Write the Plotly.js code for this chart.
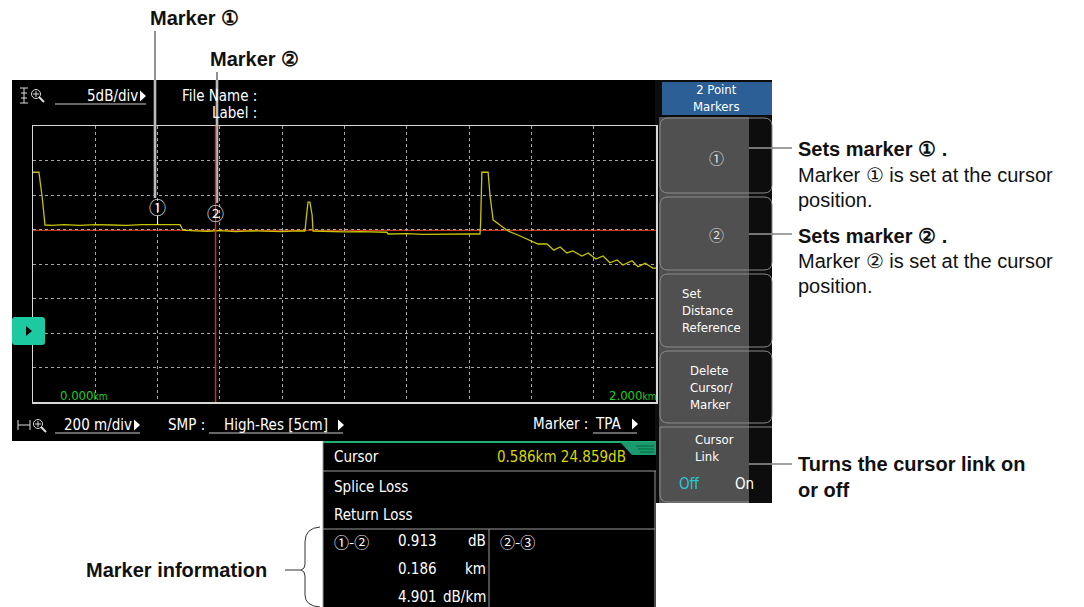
<!DOCTYPE html>
<html>
<head>
<meta charset="utf-8">
<script src="https://cdn.plot.ly/plotly-3.0.1.min.js"></script>
<style>html,body{margin:0;padding:0;background:#fff;}#chart{width:1084px;height:607px;}</style>
</head>
<body>
<div id="chart"></div>
<script>
// ---------- data ----------
const distKm = [0, 0.019, 0.030, 0.0385, 0.06, 0.10, 0.15, 0.20, 0.25, 0.30, 0.35, 0.40, 0.45, 0.472, 0.4815,
  0.52, 0.56, 0.60, 0.65, 0.70, 0.75, 0.80, 0.85, 0.873, 0.880, 0.883, 0.889, 0.896, 0.899,
  0.95, 1.00, 1.05, 1.10, 1.136, 1.14, 1.20, 1.25, 1.30, 1.35, 1.40, 1.435,
  1.437, 1.441, 1.461, 1.467, 1.477, 1.499, 1.525, 1.557, 1.586, 1.602, 1.621, 1.650,
  1.672, 1.692, 1.714, 1.733, 1.762, 1.782, 1.807, 1.830, 1.852, 1.875, 1.894, 1.923,
  1.942, 1.965, 1.990, 2.000];
const levelDb = [33.3, 33.3, 29.5, 25.65, 25.6, 25.7, 25.6, 25.7, 25.65, 25.6, 25.7, 25.65, 25.7, 25.7, 24.9,
  24.8, 24.75, 24.85, 24.7, 24.8, 24.75, 24.7, 24.8, 24.78, 27.8, 28.98, 28.98, 27.1, 24.78,
  24.7, 24.65, 24.7, 24.65, 24.6, 24.35, 24.4, 24.3, 24.35, 24.3, 24.35, 24.35,
  26.0, 33.3, 33.3, 30.0, 26.4, 25.65, 24.78, 24.2, 23.6, 23.37, 22.9, 22.9,
  22.0, 22.46, 21.6, 21.9, 21.16, 21.59, 20.72, 21.16, 20.18, 20.58, 19.85, 20.47,
  19.6, 20.1, 19.4, 19.4];
const cursorKm = 0.586;
const cursorDb = 24.859;
const markerKm = [0.400, 0.586];
const markerSymbolDb = [28.3, 27.4];
const markerLabels = ["①", "②"];
const xRange = [0, 2];       // 200 m/div
const yRange = [0, 40];      // 5 dB/div
const xDiv = 0.2, yDiv = 5;
const cursorText = "0.586km 24.859dB";
const markerInfoLabels = ["①-②", "②-③"];
const markerInfoValues = ["0.913", "0.186", "4.901"];
const markerInfoUnits = ["dB", "km", "dB/km"];
const menuTitle = "2 Point<br>Markers";
const menuItems = ["Set<br>Distance<br>Reference", "Delete<br>Cursor/<br>Marker", "Cursor<br>Link"];

// ---------- helpers ----------
const W = 1084, H = 607;
const X = p => p / W;
const Y = p => 1 - p / H;
const shapes = [];
const ann = [];
const SCR = "DejaVu Sans Condensed, DejaVu Sans, sans-serif";
const DOC = "Liberation Sans, Arial, sans-serif";
const CJK = "Noto Sans CJK JP, DejaVu Sans, sans-serif";

function line(x0, y0, x1, y1, color, width, layer) {
  shapes.push({type: 'line', xref: 'paper', yref: 'paper', x0: X(x0), y0: Y(y0), x1: X(x1), y1: Y(y1),
    line: {color: color, width: width || 1}, layer: layer || 'above'});
}
function rect(x0, y0, x1, y1, fill, lc, lw, layer) {
  shapes.push({type: 'rect', xref: 'paper', yref: 'paper', x0: X(x0), y0: Y(y0), x1: X(x1), y1: Y(y1),
    fillcolor: fill, line: {color: lc || 'rgba(0,0,0,0)', width: lw || 0}, layer: layer || 'above'});
}
function pth(pts, fill, lc, lw, layer) {
  shapes.push({type: 'path', xref: 'paper', yref: 'paper', path: pts, fillcolor: fill,
    line: {color: lc || 'rgba(0,0,0,0)', width: lw || 0}, layer: layer || 'above'});
}
function P(x, y) { return X(x) + ',' + Y(y); }
function rrect(x0, y0, x1, y1, r) {
  return 'M' + P(x0 + r, y0) + ' L' + P(x1 - r, y0) + ' Q' + P(x1, y0) + ' ' + P(x1, y0 + r) +
    ' L' + P(x1, y1 - r) + ' Q' + P(x1, y1) + ' ' + P(x1 - r, y1) +
    ' L' + P(x0 + r, y1) + ' Q' + P(x0, y1) + ' ' + P(x0, y1 - r) +
    ' L' + P(x0, y0 + r) + ' Q' + P(x0, y0) + ' ' + P(x0 + r, y0) + ' Z';
}
function tri(x, y, w, h, color) {
  pth('M' + P(x, y - h / 2) + ' L' + P(x + w, y) + ' L' + P(x, y + h / 2) + ' Z', color || '#fff');
}
function circ(cx, cy, r, color, w) {
  shapes.push({type: 'circle', xref: 'paper', yref: 'paper', x0: X(cx - r), x1: X(cx + r), y0: Y(cy + r), y1: Y(cy - r),
    line: {color: color, width: w || 1}, layer: 'above'});
}
function txt(text, x, y, o) {
  o = o || {};
  ann.push({xref: 'paper', yref: 'paper', x: X(x), y: Y(y), text: text, showarrow: false,
    xanchor: o.anchor || 'left', yanchor: 'middle', align: o.align || 'left',
    font: {family: o.family || SCR, size: o.size || 14, color: o.color || '#fff', weight: o.bold ? 'bold' : 'normal'}});
}

// ---------- backgrounds ----------
rect(12, 80, 660, 441, '#000', null, 0, 'below');
rect(655, 80, 772, 503, '#0d0d0d', null, 0, 'below');
rect(323, 441, 656, 607, '#000', null, 0, 'below');

// top bar
txt('5dB/div', 85, 96, {size: 15});
tri(140, 96, 6, 11);
line(55, 104, 146, 104, '#cfcfcf', 1);
// top-left icon (vertical zoom)
line(20, 88, 28, 88, '#ddd', 1); line(20, 103, 28, 103, '#ddd', 1); line(24, 88, 24, 103, '#ddd', 1);
line(21, 93, 27, 93, '#ddd', 1); line(21, 98, 27, 98, '#ddd', 1);
circ(36, 94, 4.5, '#ddd', 1); line(33, 94, 39, 94, '#ddd', 1); line(36, 91, 36, 97, '#ddd', 1); line(39, 97, 44, 102, '#ddd', 2);
txt('File Name :', 180, 96, {size: 15});
txt('Label :', 210, 113, {size: 15});

// bottom bar
line(18, 420, 18, 430, '#ddd', 1); line(30, 420, 30, 430, '#ddd', 1); line(18, 425, 30, 425, '#ddd', 1);
circ(38, 424, 4.5, '#ddd', 1); line(35, 424, 41, 424, '#ddd', 1); line(38, 421, 38, 427, '#ddd', 1); line(41, 427, 46, 432, '#ddd', 2);
txt('200 m/div', 62, 425, {size: 15});
tri(134, 425, 6, 11);
line(55, 433, 140, 433, '#cfcfcf', 1);
txt('SMP :', 166, 425, {size: 15});
txt('High-Res [5cm]', 222, 425, {size: 15});
tri(338, 425, 6, 11);
line(209, 433, 343, 433, '#cfcfcf', 1);
txt('Marker :', 531, 424, {size: 15});
txt('TPA', 593, 424, {size: 15});
tri(632, 424, 6, 11);
line(593, 433, 637, 433, '#cfcfcf', 1);

// distance labels
txt("0.000<span style='font-size:10px'>km</span>", 58, 396, {color: '#22cc22', size: 13});
txt("2.000<span style='font-size:10px'>km</span>", 607, 396, {color: '#22cc22', size: 13});

// left tab
pth(rrect(12, 317, 45, 345, 3), '#1dc9a0');
tri(26, 331, 6, 10, '#000');

// ---------- right menu ----------
rect(662, 82, 772, 115, '#2c5f96');
txt(menuTitle, 716, 98, {anchor: 'center', align: 'center', size: 13});
rect(659, 117, 749, 503, '#505050');
const btn = [[118, 193], [197, 270], [274, 347], [351, 423]];
btn.forEach(b => pth(rrect(660, b[0], 772, b[1], 8), 'rgba(0,0,0,0)', '#8a8a8a', 1));
pth('M' + P(772, 427) + ' L' + P(660, 427) + ' L' + P(660, 494) + ' Q' + P(660, 502) + ' ' + P(668, 502) + ' L' + P(749, 502),
  'rgba(0,0,0,0)', '#8a8a8a', 1);
txt(markerLabels[0], 716, 157, {anchor: 'center', size: 15, color: '#e0e0e0', family: CJK});
txt(markerLabels[1], 716, 234, {anchor: 'center', size: 15, color: '#e0e0e0', family: CJK});
const menuPos = [[680, 310], [688, 387], [693, 448]];
menuItems.forEach((item, i) => txt(item, menuPos[i][0], menuPos[i][1], {size: 13}));
txt('Off', 677, 484, {size: 15, color: '#2cc6d6'});
txt('On', 733, 484, {size: 15});

// ---------- lower info panel ----------
line(323, 442, 656, 442, '#1db36e', 2);
pth('M' + P(620, 442) + ' L' + P(656, 442) + ' L' + P(656, 455) + ' L' + P(632, 455) + ' Z', '#1a9a70');
line(636, 446, 654, 446, '#063', 1); line(638, 449, 654, 449, '#063', 1); line(640, 452, 654, 452, '#063', 1);
line(323, 442, 323, 607, '#9a9a9a', 1);
line(655, 471, 655, 607, '#9a9a9a', 1);
line(323, 471, 656, 471, '#9a9a9a', 1);
line(323, 529, 655, 529, '#9a9a9a', 1);
line(489, 529, 489, 607, '#9a9a9a', 1);
txt('Cursor', 332, 457, {size: 15});
txt(cursorText, 628, 457, {size: 15, color: '#d8d800', anchor: 'right'});
txt('Splice Loss', 332, 487, {size: 15});
txt('Return Loss', 332, 515, {size: 15});
txt(markerInfoLabels[0], 332, 541, {size: 15, family: CJK});
txt(markerInfoLabels[1], 498, 541, {size: 15, family: CJK});
markerInfoValues.forEach((v, i) => {
  txt(v, 396, 541 + i * 28, {size: 15});
  txt(markerInfoUnits[i], 488, 541 + i * 28, {size: 15, anchor: 'right'});
});

// ---------- document callouts ----------
const DS = 20;
txt('Marker ①', 148, 18, {family: DOC, size: DS, bold: true, color: '#111'});
txt('Marker ②', 208, 59, {family: DOC, size: DS, bold: true, color: '#111'});
line(155, 31, 155, 80, '#222', 1);
line(155, 80, 155, 198, '#777', 3);
line(155, 80, 155, 198, '#fff', 1);
line(217, 72, 217, 80, '#222', 1);
line(217, 80, 217, 203, '#777', 3);
line(217, 80, 217, 203, '#fff', 1);

[[148], [234], [464]].forEach(r => {
  line(749, r[0], 772, r[0], '#ddd', 1);
  line(772, r[0], 792, r[0], '#444', 1);
});
txt('Sets marker ① .', 796, 149, {family: DOC, size: DS, bold: true, color: '#111'});
txt('Marker ① is set at the cursor', 796, 175, {family: DOC, size: DS, color: '#111'});
txt('position.', 796, 200, {family: DOC, size: DS, color: '#111'});
txt('Sets marker ② .', 796, 236, {family: DOC, size: DS, bold: true, color: '#111'});
txt('Marker ② is set at the cursor', 796, 261, {family: DOC, size: DS, color: '#111'});
txt('position.', 796, 286, {family: DOC, size: DS, color: '#111'});
txt('Turns the cursor link on', 796, 464, {family: DOC, size: DS, bold: true, color: '#111'});
txt('or off', 796, 490, {family: DOC, size: DS, bold: true, color: '#111'});
txt('Marker information', 84, 570, {family: DOC, size: DS, bold: true, color: '#111'});
line(285, 570, 301, 570, '#333', 1);
pth('M' + P(320, 527) + ' Q' + P(305, 528) + ' ' + P(305, 542) + ' L' + P(305, 564) + ' Q' + P(305, 569) + ' ' + P(301, 570) +
  ' Q' + P(305, 571) + ' ' + P(305, 576) + ' L' + P(305, 595) + ' Q' + P(305, 606) + ' ' + P(320, 607),
  'rgba(0,0,0,0)', '#333', 1);

// ---------- data-referenced cursor / markers ----------
shapes.push({type: 'line', xref: 'x', yref: 'paper', x0: cursorKm, x1: cursorKm, y0: Y(402), y1: Y(126),
  line: {color: '#c0361e', width: 1.5}, layer: 'above'});
shapes.push({type: 'line', xref: 'paper', yref: 'y', x0: X(33), x1: X(656), y0: cursorDb, y1: cursorDb,
  line: {color: '#c0361e', width: 1.2}, layer: 'between'});
shapes.push({type: 'line', xref: 'x', yref: 'y', x0: markerKm[0], x1: markerKm[0], y0: 27.0, y1: 25.7,
  line: {color: '#fff', width: 1}, layer: 'above'});
markerKm.forEach((m, i) => {
  ann.push({xref: 'x', yref: 'y', x: m, y: markerSymbolDb[i], text: markerLabels[i], showarrow: false,
    xanchor: 'center', yanchor: 'middle', font: {family: CJK, size: 17, color: '#fff'}});
});

// ---------- plot ----------
const trace = {x: distKm, y: levelDb, type: 'scatter', mode: 'lines',
  line: {color: '#c8c400', width: 1.3}, hoverinfo: 'skip'};

const layout = {
  width: W, height: H, margin: {l: 0, r: 0, t: 0, b: 0},
  paper_bgcolor: '#fff', plot_bgcolor: '#000', showlegend: false,
  xaxis: {domain: [X(33), X(656)], range: xRange, dtick: xDiv, tick0: 0, showticklabels: false, ticks: '',
    showgrid: true, gridcolor: '#a8a8a8', griddash: 'dot', gridwidth: 1, zeroline: false,
    showline: true, mirror: true, linecolor: '#d8d8d8', linewidth: 1.5, fixedrange: true},
  yaxis: {domain: [Y(402), Y(126)], range: yRange, dtick: yDiv, tick0: 0, showticklabels: false, ticks: '',
    showgrid: true, gridcolor: '#a8a8a8', griddash: 'dot', gridwidth: 1, zeroline: false,
    showline: true, mirror: true, linecolor: '#d8d8d8', linewidth: 1.5, fixedrange: true},
  shapes: shapes, annotations: ann
};
Plotly.newPlot('chart', [trace], layout, {staticPlot: true, displayModeBar: false});
</script>
</body>
</html>
